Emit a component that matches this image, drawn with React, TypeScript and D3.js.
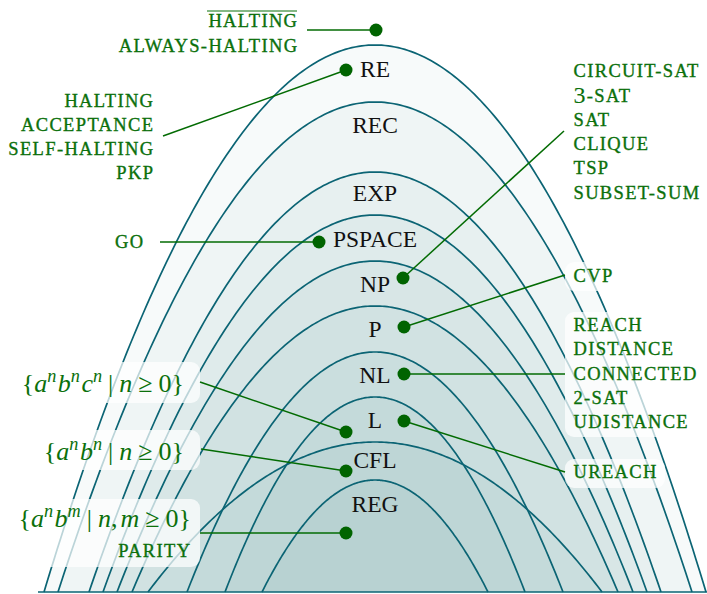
import React from "react";
import * as d3 from "d3";

// ---- data ----
const classNames = ["RE", "REC", "EXP", "PSPACE", "NP", "P", "NL", "L", "CFL", "REG"];
const classHeights = [547, 490, 420, 377, 331, 286, 240, 195, 150, 112];
const classHalfWidths = [331, 317, 286, 272, 258, 243, 188, 150, 227, 113];
const classLabelHeights = [515, 459, 391, 345, 300, 255, 209, 164, 124, 80];

const haltingLabels = ["HALTING", "ALWAYS-HALTING"];
const reLabels = ["HALTING", "ACCEPTANCE", "SELF-HALTING", "PKP"];
const pspaceLabels = ["GO"];
const npLabels = ["CIRCUIT-SAT", "3-SAT", "SAT", "CLIQUE", "TSP", "SUBSET-SUM"];
const pLabels = ["CVP"];
const nlLabels = ["REACH", "DISTANCE", "CONNECTED", "2-SAT", "UDISTANCE"];
const lLabels = ["UREACH"];
const regLabels = ["PARITY"];

// ---- layout ----
const W = 707;
const H = 594;
const x = d3.scaleLinear().domain([-375, 332]).range([0, W]);
const y = d3.scaleLinear().domain([0, 592]).range([592, 0]);

const TEAL = "#0b6474";
const GREEN_LINE = "#036b03";
const GREEN_TEXT = "#0b700b";
const SC_FONT = 18.5;
const LINE_H = 24.25;
const LS = 1.35;

function curvePath(h: number, hw: number) {
  const pts: [number, number][] = d3.range(0, 201).map((i) => {
    const t = -1 + (2 * i) / 200;
    return [t * hw, h * (1 - t * t)];
  });
  return d3
    .line<[number, number]>()
    .x((d) => x(d[0]))
    .y((d) => y(d[1]))(pts) as string;
}

type Tok = { t: string; it?: boolean; sup?: boolean; dx?: number };

function MathText({ toks, xr, yb, size }: { toks: Tok[]; xr: number; yb: number; size: number }) {
  let shift = 0;
  return (
    <text x={xr} y={yb} textAnchor="end" fontFamily="Liberation Serif" fontSize={size} fill={GREEN_TEXT}>
      {toks.map((k, i) => {
        const target = k.sup ? -10 : 0;
        const dy = target - shift;
        shift = target;
        return (
          <tspan key={i} dx={k.dx || 0} dy={dy} fontStyle={k.it ? "italic" : "normal"} fontSize={k.sup ? size * 0.7 : size}>
            {k.t}
          </tspan>
        );
      })}
    </text>
  );
}

function SCLines({ lines, xa, y0, anchor }: { lines: string[]; xa: number; y0: number; anchor: "start" | "end" }) {
  const xx = anchor === "end" ? xa + LS : xa;
  return (
    <g>
      {lines.map((s, i) => {
        const yy = y0 + i * LINE_H;
        if (s.startsWith("3-")) {
          return (
            <text key={i} x={xx} y={yy} textAnchor={anchor} fontFamily="Liberation Serif" fontSize={SC_FONT}
              fill={GREEN_TEXT} stroke={GREEN_TEXT} strokeWidth={0.35} letterSpacing={LS}>
              <tspan fontSize={24} dy={1.5} strokeWidth={0.1}>3</tspan>
              <tspan dy={-1.5}>{s.slice(1)}</tspan>
            </text>
          );
        }
        return (
          <text key={i} x={xx} y={yy} textAnchor={anchor} fontFamily="Liberation Serif" fontSize={SC_FONT}
            fill={GREEN_TEXT} stroke={GREEN_TEXT} strokeWidth={0.35} letterSpacing={LS}>
            {s}
          </text>
        );
      })}
    </g>
  );
}

const connectors = [
  { from: [-68, 562], to: [1, 562] },
  { from: [-212, 456], to: [-29, 522] },
  { from: [-215, 350], to: [-56, 350] },
  { from: [189, 461], to: [28, 314] },
  { from: [190, 317], to: [29, 265] },
  { from: [190, 218], to: [29, 218] },
  { from: [190, 120], to: [29, 171] },
  { from: [-175, 210], to: [-29, 160] },
  { from: [-174, 143], to: [-29, 121] },
  { from: [-175, 59], to: [-29, 59] },
];

const boxes = [
  { x0: 10, x1: 200, y0: 362, y1: 403 },
  { x0: 10, x1: 200, y0: 430, y1: 470 },
  { x0: 10, x1: 200, y0: 499, y1: 567 },
  { x0: 565, x1: 622, y0: 262, y1: 291 },
  { x0: 565, x1: 707, y0: 312, y1: 437 },
  { x0: 565, x1: 665, y0: 459, y1: 488 },
];

export default function App() {
  const order = d3.range(classNames.length);
  return (
    <svg width={W} height={H} style={{ position: "absolute", left: 0, top: 0, background: "#fff" }}>
      <g>
        {order.map((i) => (
          <path key={"f" + i} d={curvePath(classHeights[i], classHalfWidths[i])} fill="#2c7a8c" fillOpacity={0.04} stroke="none" />
        ))}
        {order.map((i) => (
          <path key={"s" + i} d={curvePath(classHeights[i], classHalfWidths[i])} fill="none" stroke={TEAL} strokeWidth={1.7} />
        ))}
        <line x1={x(-337)} x2={x(332)} y1={y(0)} y2={y(0)} stroke={TEAL} strokeWidth={1.7} />
      </g>
      <g>
        {boxes.map((b, i) => (
          <rect key={i} x={b.x0} y={b.y0} width={b.x1 - b.x0} height={b.y1 - b.y0} rx={9} fill="#fff" fillOpacity={0.72} />
        ))}
      </g>
      <g>
        {classNames.map((n, i) => (
          <text key={n} x={x(0)} y={y(classLabelHeights[i])} textAnchor="middle" fontFamily="Liberation Serif" fontSize={23.5} fill="#111">
            {n}
          </text>
        ))}
      </g>
      <g>
        {connectors.map((c, i) => (
          <g key={i}>
            <line x1={x(c.from[0])} y1={y(c.from[1])} x2={x(c.to[0])} y2={y(c.to[1])} stroke={GREEN_LINE} strokeWidth={1.5} />
            <circle cx={x(c.to[0])} cy={y(c.to[1])} r={6.5} fill="#006400" />
          </g>
        ))}
      </g>
      <g>
        <SCLines lines={haltingLabels} xa={297} y0={27.3} anchor="end" />
        <line x1={207} x2={297} y1={11} y2={11} stroke={GREEN_TEXT} strokeWidth={1.2} />
        <SCLines lines={reLabels} xa={153} y0={106.7} anchor="end" />
        <SCLines lines={pspaceLabels} xa={143} y0={248} anchor="end" />
        <SCLines lines={npLabels} xa={573.5} y0={77.3} anchor="start" />
        <SCLines lines={pLabels} xa={573.5} y0={281.7} anchor="start" />
        <SCLines lines={nlLabels} xa={573.5} y0={331} anchor="start" />
        <SCLines lines={lLabels} xa={573.5} y0={478.3} anchor="start" />
        <SCLines lines={regLabels} xa={190} y0={556.7} anchor="end" />
        <MathText
          xr={184}
          yb={392}
          size={26}
          toks={[
            { t: "{" },
            { t: "a", it: true },
            { t: "n", it: true, sup: true },
            { t: "b", it: true, dx: 1.5 },
            { t: "n", it: true, sup: true },
            { t: "c", it: true, dx: 1.5 },
            { t: "n", it: true, sup: true },
            { t: "|", dx: 6 },
            { t: "n", it: true, dx: 6 },
            { t: "≥", dx: 6 },
            { t: "0", dx: 6 },
            { t: "}" },
          ]}
        />
        <MathText
          xr={184}
          yb={460}
          size={26}
          toks={[
            { t: "{" },
            { t: "a", it: true },
            { t: "n", it: true, sup: true },
            { t: "b", it: true, dx: 1.5 },
            { t: "n", it: true, sup: true },
            { t: "|", dx: 6 },
            { t: "n", it: true, dx: 6 },
            { t: "≥", dx: 6 },
            { t: "0", dx: 6 },
            { t: "}" },
          ]}
        />
        <MathText
          xr={191}
          yb={527}
          size={26}
          toks={[
            { t: "{" },
            { t: "a", it: true },
            { t: "n", it: true, sup: true },
            { t: "b", it: true, dx: 1.5 },
            { t: "m", it: true, sup: true },
            { t: "|", dx: 6 },
            { t: "n", it: true, dx: 6 },
            { t: ",", dx: 0 },
            { t: "m", it: true, dx: 3 },
            { t: "≥", dx: 6 },
            { t: "0", dx: 6 },
            { t: "}" },
          ]}
        />
      </g>
    </svg>
  );
}
